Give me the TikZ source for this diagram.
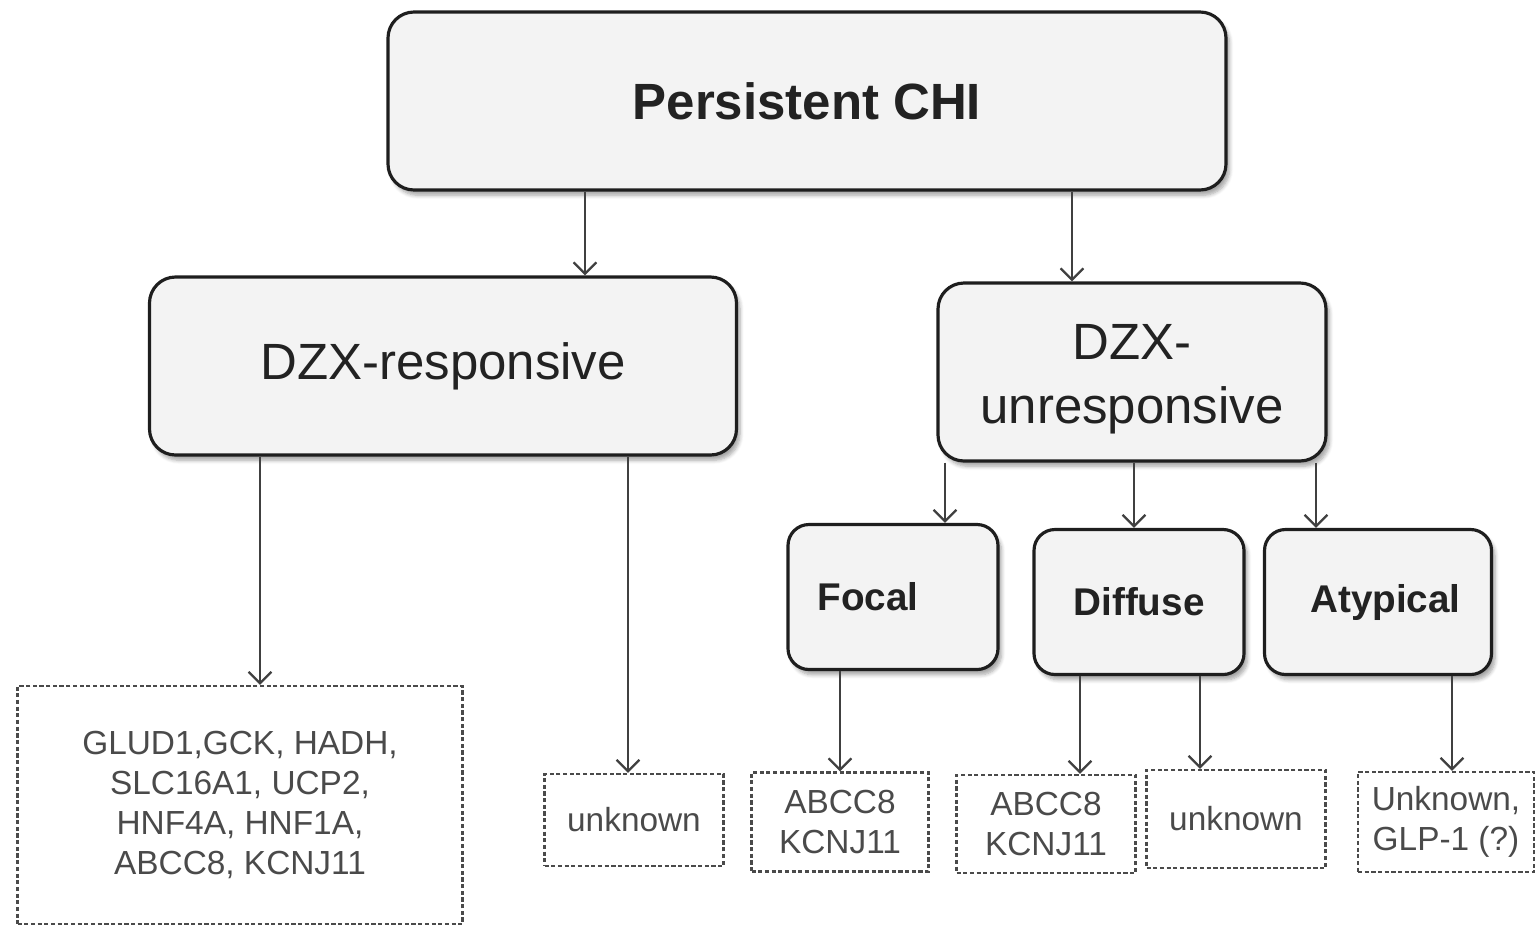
\documentclass[tikz,border=0pt]{standalone}
\usepackage{fontspec}
\setmainfont{Liberation Sans}
\usepackage{tikz}
\usetikzlibrary{arrows.meta, positioning, shadows.blur}
\definecolor{boxfill}{HTML}{F3F3F3}
\definecolor{boxline}{HTML}{1E1E1E}
\definecolor{textdark}{HTML}{222222}
\definecolor{genegray}{HTML}{4A4A4A}

\begin{document}
\begin{tikzpicture}[
  mainbox/.style={draw=boxline, fill=boxfill, line width=1.8pt, rounded corners=0.52cm,
    align=center, inner sep=0pt, text=textdark,
    blur shadow={shadow xshift=2pt, shadow yshift=-3pt, shadow blur steps=6, shadow opacity=35}},
  typebox/.style={mainbox, rounded corners=0.42cm, minimum width=4.2cm, minimum height=2.9cm,
    font=\fontsize{22}{26}\selectfont\bfseries},
  genebox/.style={draw=genegray, dash pattern=on 2.4pt off 1.4pt, line width=1.3pt,
    align=center, inner sep=0pt, text=genegray, font=\fontsize{19}{22.8}\selectfont},
  arr/.style={draw=boxline!85, line width=1.3pt, -{Straight Barb[length=6.5pt, width=13pt]}}
]
  \useasboundingbox (0,0) rectangle (30.74,-18.52);

  % Top level
  \node[mainbox, minimum width=16.76cm, minimum height=3.56cm,
    font=\fontsize{29}{35}\selectfont\bfseries] (chi) at (16.14,-2.02) {Persistent CHI};

  % Diazoxide response
  \node[mainbox, minimum width=11.74cm, minimum height=3.56cm,
    font=\fontsize{29}{35}\selectfont] (resp) at (8.86,-7.32) {\raisebox{-0.2cm}{DZX-responsive}};
  \node[mainbox, minimum width=7.76cm, minimum height=3.56cm,
    font=\fontsize{29}{36.5}\selectfont] (unresp) at (22.64,-7.44) {\\[-0.3cm]DZX-\\unresponsive};

  % Histology
  \node[typebox] (focal) at (17.86,-11.94) {\hspace*{-1.0cm}Focal};
  \node[typebox] (diffuse) at (22.78,-12.04) {Diffuse};
  \node[typebox, minimum width=4.54cm] (atyp) at (27.56,-12.04) {\hspace*{0.3cm}Atypical};

  % Genes
  \node[genebox, minimum width=8.9cm, minimum height=4.76cm] (genes) at (4.80,-16.10)
    {GLUD1,GCK, HADH,\\SLC16A1, UCP2,\\HNF4A, HNF1A,\\ABCC8, KCNJ11};
  \node[genebox, minimum width=3.58cm, minimum height=1.84cm] (unka) at (12.68,-16.40) {unknown};
  \node[genebox, minimum width=3.54cm, minimum height=1.98cm] (abcca) at (16.80,-16.44) {ABCC8\\KCNJ11};
  \node[genebox, minimum width=3.58cm, minimum height=1.96cm] (abccb) at (20.92,-16.48) {ABCC8\\KCNJ11};
  \node[genebox, minimum width=3.58cm, minimum height=1.96cm] (unkb) at (24.72,-16.38) {unknown};
  \node[genebox, minimum width=3.52cm, minimum height=2.0cm] (glp) at (28.92,-16.44) {Unknown,\\GLP-1 (?)};

  % Connectors
  \foreach \from/\to/\x in {chi/resp/11.70, chi/unresp/21.44, resp/genes/5.20, resp/unka/12.56,
      unresp/focal/18.90, unresp/diffuse/22.68, unresp/atyp/26.32, focal/abcca/16.80,
      diffuse/abccb/21.60, diffuse/unkb/24.00, atyp/glp/29.04}
    \draw[arr] (\from.south -| \x,0) -- (\to.north -| \x,0);

\end{tikzpicture}
\end{document}
